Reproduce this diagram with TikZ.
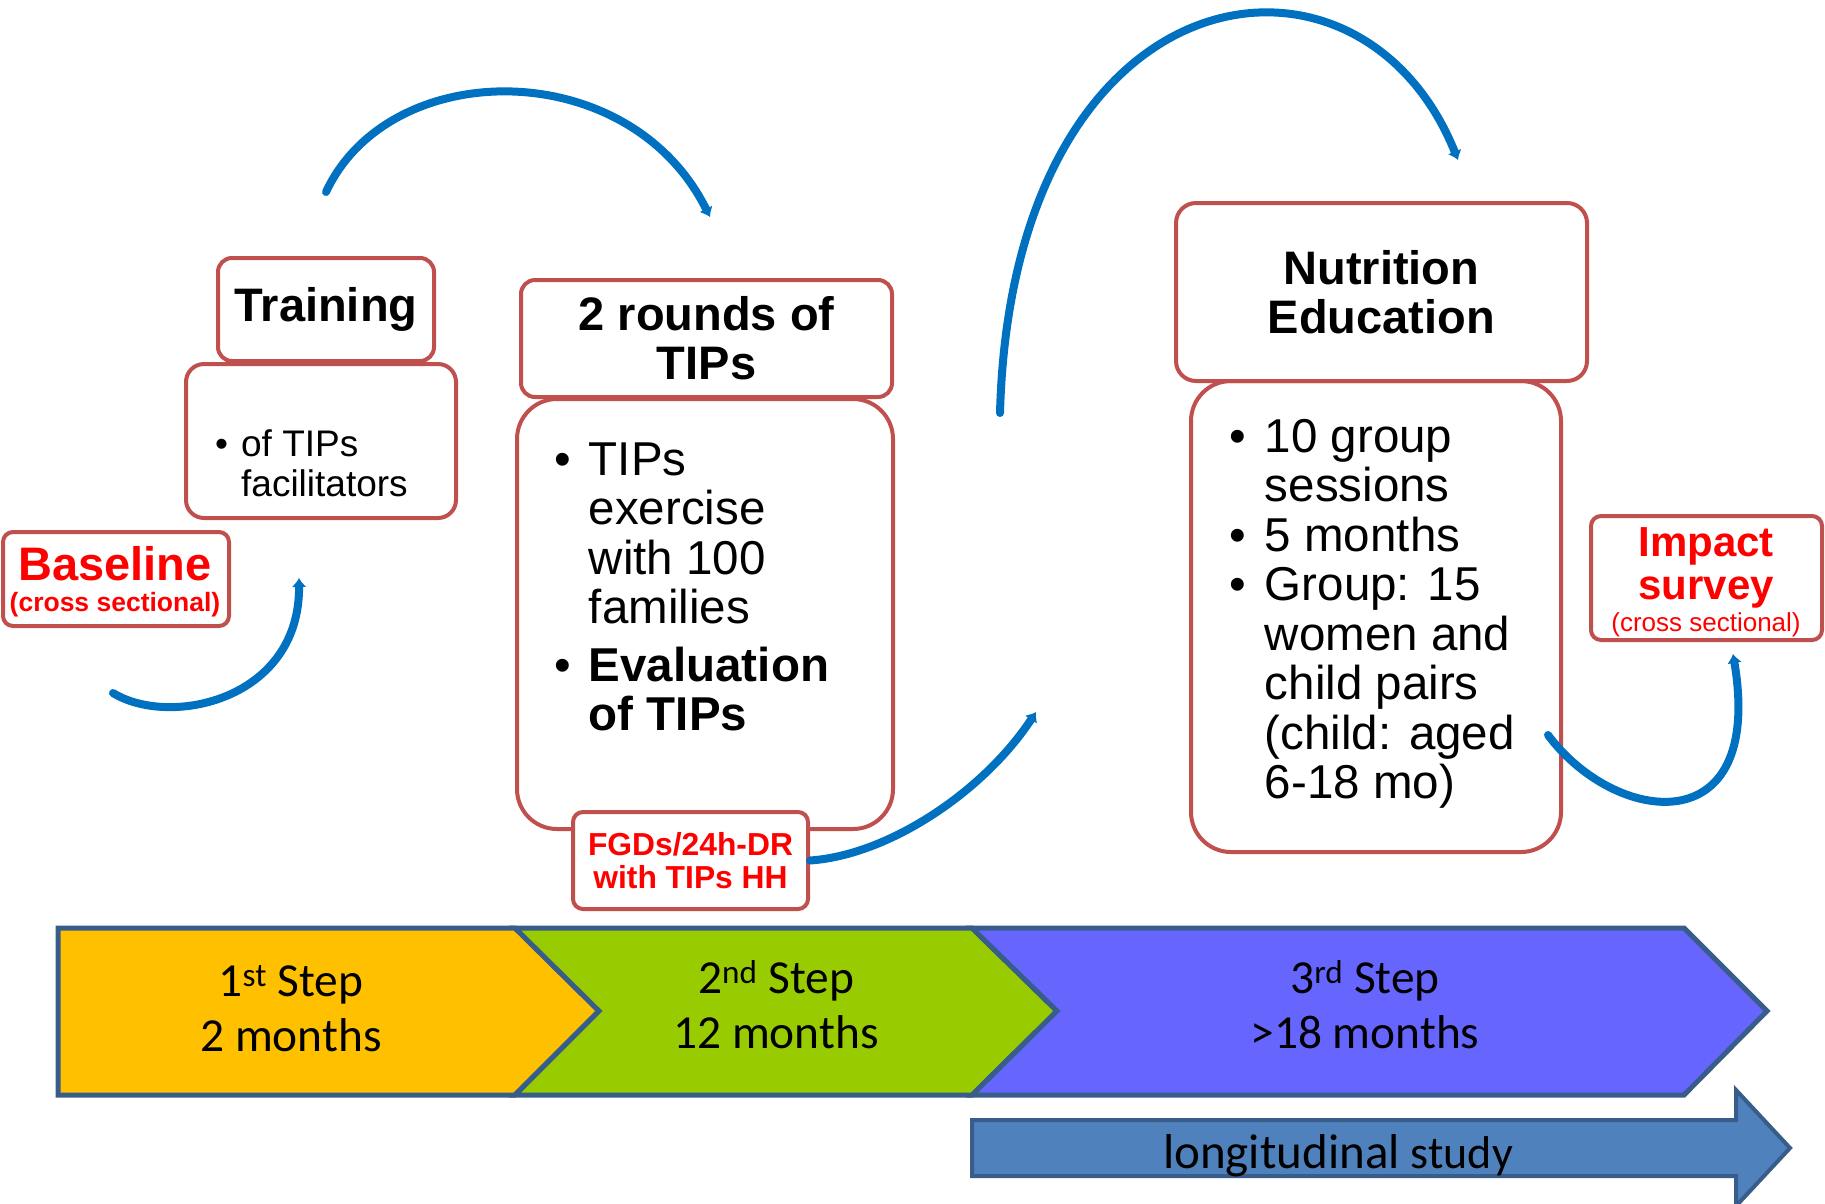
\documentclass[tikz,border=0pt]{standalone}
\usepackage{fontspec}
\setmainfont{Liberation Sans}
\newfontfamily\stepfont{Carlito}
\usetikzlibrary{positioning}
\usetikzlibrary{arrows.meta}

\definecolor{boxred}{RGB}{192,80,77}
\definecolor{arcblue}{RGB}{0,112,192}
\definecolor{stepone}{RGB}{255,192,0}
\definecolor{steptwo}{RGB}{153,204,0}
\definecolor{stepthree}{RGB}{102,102,255}
\definecolor{stepline}{RGB}{56,93,138}
\definecolor{longblue}{RGB}{79,129,189}
\definecolor{surveyred}{RGB}{255,0,0}

\begin{document}
\begin{tikzpicture}[
    x=1pt, y=-1pt,
    every node/.style={
        inner sep=0pt
    },
    header/.style={
        draw=boxred, line width=4pt,
        fill=white,
        rounded corners=14pt,
        align=center,
        font=\fontsize{47}{49}\selectfont\bfseries
    },
    body/.style={
        draw=boxred, line width=4pt,
        fill=white,
        rounded corners=40pt
    },
    survey/.style={
        draw=boxred, line width=4pt,
        fill=white,
        rounded corners=10pt
    },
    bullets/.style={
        anchor=base west,
        font=\fontsize{47.5}{49.5}\selectfont
    },
    redtext/.style={
        anchor=base,
        text=surveyred
    },
    loop/.style={
        draw=arcblue, line width=8pt, line cap=round,
        -{Latex[length=9pt,width=15pt]}
    },
    stepbox/.style={
        draw=stepline, line width=5pt
    },
    steplabel/.style={
        anchor=base,
        font=\fontsize{47.4}{55}\selectfont\stepfont
    }
]
\useasboundingbox (0,0) rectangle (1825,1203);

% steps
\draw[stepbox, fill=stepone] (58,928) -- (515,928) -- (599,1011) -- (515,1095) -- (58,1095) -- cycle;
\draw[stepbox, fill=steptwo] (515,928) -- (972,928) -- (1057,1011) -- (972,1095) -- (515,1095) -- (599,1011) -- cycle;
\draw[stepbox, fill=stepthree] (972,928) -- (1684,928) -- (1767,1011) -- (1684,1095) -- (972,1095) -- (1057,1011) -- cycle;
\node (s1) [steplabel] at (291,996) {\begin{tabular}[t]{@{}c@{}}1\textsuperscript{st} Step\\2 months\end{tabular}};
\node (s2) [steplabel] at (776,993) {\begin{tabular}[t]{@{}c@{}}2\textsuperscript{nd} Step\\12 months\end{tabular}};
\node (s3) [steplabel] at (1365,993) {\begin{tabular}[t]{@{}c@{}}3\textsuperscript{rd} Step\\>18 months\end{tabular}};

\draw[stepbox, line width=4pt, fill=longblue] (972,1120) -- (1736,1120) -- (1736,1090) -- (1790,1148) -- (1736,1206) -- (1736,1176) -- (972,1176) -- cycle;
\node (study) [anchor=base, font=\stepfont] at (1338,1168) {{\fontsize{49}{49}\selectfont longitudinal}\hspace{11pt}{\fontsize{46}{46}\selectfont study}};

% boxes
\node (trainsub) [body, rounded corners=18pt, minimum width=270pt, minimum height=154pt] at (321,441) {};
\node (training) [header, minimum width=216pt, minimum height=103pt] at (326,309.5) {Training};
\node (trainlist) [bullets, font=\fontsize{37}{40}\selectfont] at (215,456) {\begin{tabular}[t]{@{}l@{\hspace{13pt}}l@{}}\textbullet & of TIPs\\ & facilitators\end{tabular}};

\node (baseline) [survey, minimum width=226pt, minimum height=94pt] at (116,579) {};
\node (baselinetitle) [redtext, font=\fontsize{47}{47}\selectfont\bfseries] at (115,580) {Baseline};
\node (baselinenote) [redtext, font=\fontsize{26.5}{28}\selectfont\bfseries] at (115,611) {(cross sectional)};

\node (tipsbody) [body, minimum width=376pt, minimum height=430pt] at (705,614) {};
\node (rounds) [header, minimum width=371pt, minimum height=117pt] at (706.5,338.5) {2 rounds of\\TIPs};
\node (tipslist) [bullets] at (554,475) {\begin{tabular}[t]{@{}l@{\hspace{18pt}}l@{}}
    \textbullet & TIPs\\
                & exercise\\
                & with 100\\
                & families\\[8pt]
    \textbullet & \textbf{Evaluation}\\
                & \textbf{of TIPs}
\end{tabular}};
\node (fgd) [survey, minimum width=235pt, minimum height=97pt, align=center, text=surveyred, font=\fontsize{31.8}{33}\selectfont\bfseries] at (690.5,860.5) {FGDs/24h-DR\\with TIPs HH};

\node (nutrbody) [body, minimum width=370pt, minimum height=471pt] at (1376,616.5) {};
\node (nutrition) [header, rounded corners=20pt, minimum width=411pt, minimum height=178pt] at (1381.5,292) {Nutrition\\Education};
\node (nutrlist) [bullets] at (1229,452) {\begin{tabular}[t]{@{}l@{\hspace{19pt}}l@{}}
    \textbullet & 10 group\\
                & sessions\\
    \textbullet & 5 months\\
    \textbullet & Group: 15\\
                & women and\\
                & child pairs\\
                & (child: aged\\
                & 6-18 mo)
\end{tabular}};

\node (impact) [survey, minimum width=231pt, minimum height=124pt] at (1706.5,578) {};
\node (impacttitle) [redtext, font=\fontsize{42}{43}\selectfont\bfseries] at (1706,556) {\begin{tabular}[t]{@{}c@{}}Impact\\survey\end{tabular}};
\node (impactnote) [redtext, font=\fontsize{26}{28}\selectfont] at (1706,631) {(cross sectional)};

% loops
\coordinate (blstart) at (113,693);
\coordinate (blend) at (299,578);
\coordinate (trstart) at (326,192);
\coordinate (trend) at (710,217);
\coordinate (nustart) at (1000,413);
\coordinate (nuend) at (1458,160);
\coordinate (fgdend) at (1036,712);
\coordinate (imstart) at (1548,735);
\coordinate (imend) at (1733,654);

\draw[loop] (blstart) .. controls (170,728) and (300,700) .. (blend);
\draw[loop] (trstart) .. controls (390,55) and (630,55) .. (trend);
\draw[loop] (nustart) .. controls (1012,-35) and (1360,-85) .. (nuend);
\draw[loop] (fgd.east) .. controls (890,855) and (985,790) .. (fgdend);
\draw[loop] (imstart) .. controls (1615,825) and (1765,845) .. (imend);
\end{tikzpicture}
\end{document}
